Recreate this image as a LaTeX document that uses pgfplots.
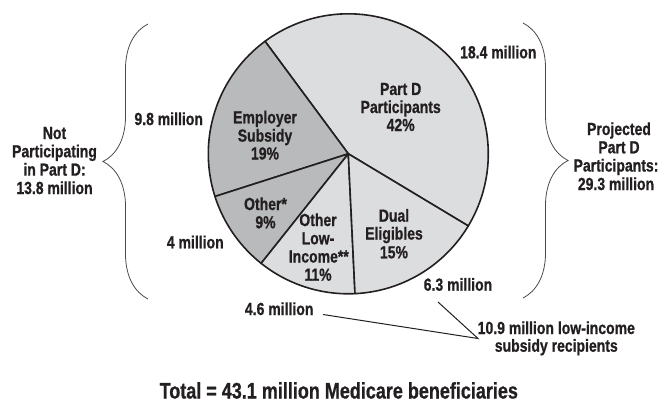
\documentclass[border=0pt]{standalone}
\usepackage{pgfplots}
\pgfplotsset{compat=1.18}
\usepackage{fontspec}
\setmainfont{Liberation Sans}[FakeStretch=0.8, BoldFeatures={FakeBold=0.8}]
\usetikzlibrary{decorations.pathreplacing}
\definecolor{txt}{HTML}{231F20}
\definecolor{light}{HTML}{DCDDDF}
\definecolor{dark}{HTML}{B9BABC}
\definecolor{brace}{HTML}{4A4A4A}
\newcommand\lblfont{\fontsize{17.5}{18}\selectfont\bfseries}
\newcommand\ttlfont{\fontsize{22.5}{24}\selectfont\bfseries}
\newcommand\lbl[3]{\node[anchor=base, text=txt, font=\lblfont, inner sep=0pt] at (axis cs:#1,#2) {#3};}
\begin{document}
\begin{tikzpicture}
\path[use as bounding box] (0,0) rectangle (664pt,404pt);
% shares (percent) as labelled: Part D, Employer, Other, Other low-income, Dual
\def\cx{348.3}\def\cy{153.8}\def\R{140}
\pgfmathsetmacro{\tot}{42+19+9+11+15}
\pgfmathsetmacro{\aA}{-31}
\pgfmathsetmacro{\aB}{\aA+42/\tot*360}
\pgfmathsetmacro{\aC}{\aB+19/\tot*360}
\pgfmathsetmacro{\aD}{\aC+9/\tot*360}
\pgfmathsetmacro{\aE}{\aD+11/\tot*360}
\pgfmathsetmacro{\aF}{\aE+15/\tot*360}
\begin{axis}[at={(0,0)}, anchor=south west, width=664pt, height=404pt, scale only axis,
  xmin=0, xmax=664, ymin=0, ymax=404, y dir=reverse, hide axis, clip=false]
\addplot[fill=light, draw=txt, line width=1.6pt, line join=round, domain=\aA:\aB, samples=90, variable=\t]
  ({\cx+\R*cos(\t)},{\cy-\R*sin(\t)}) -- (axis cs:\cx,\cy) -- cycle;
\addplot[fill=dark, draw=txt, line width=1.6pt, line join=round, domain=\aB:\aC, samples=60, variable=\t]
  ({\cx+\R*cos(\t)},{\cy-\R*sin(\t)}) -- (axis cs:\cx,\cy) -- cycle;
\addplot[fill=dark, draw=txt, line width=1.6pt, line join=round, domain=\aC:\aD, samples=40, variable=\t]
  ({\cx+\R*cos(\t)},{\cy-\R*sin(\t)}) -- (axis cs:\cx,\cy) -- cycle;
\addplot[fill=light, draw=txt, line width=1.6pt, line join=round, domain=\aD:\aE, samples=40, variable=\t]
  ({\cx+\R*cos(\t)},{\cy-\R*sin(\t)}) -- (axis cs:\cx,\cy) -- cycle;
\addplot[fill=light, draw=txt, line width=1.6pt, line join=round, domain=\aE:\aF, samples=50, variable=\t]
  ({\cx+\R*cos(\t)},{\cy-\R*sin(\t)}) -- (axis cs:\cx,\cy) -- cycle;
% braces
\draw[brace, line width=0.8pt, decorate, decoration={brace, amplitude=45pt}] (axis cs:148,299) -- (axis cs:148,24);
\draw[brace, line width=0.8pt, decorate, decoration={brace, amplitude=45pt}] (axis cs:523,23) -- (axis cs:523,298);
% leader lines
\addplot[txt, line width=1pt, no marks] coordinates {(323,314.5) (478,338.5) (438,302)};
% labels
\lbl{54.5}{139}{Not}
\lbl{54.5}{157.3}{Participating}
\lbl{54.5}{175.6}{in Part D:}
\lbl{54.5}{194}{13.8 million}
\lbl{168.7}{125}{9.8 million}
\lbl{265}{123.3}{Employer}
\lbl{265}{141.6}{Subsidy}
\lbl{265}{159.5}{19\%}
\lbl{400.7}{95}{Part D}
\lbl{400.7}{113}{Participants}
\lbl{400.7}{131}{42\%}
\lbl{498.3}{58.3}{18.4 million}
\lbl{619}{135}{Projected}
\lbl{619}{153.3}{Part D}
\lbl{616}{171.5}{Participants:}
\lbl{616}{190}{29.3 million}
\lbl{265.5}{210}{Other*}
\lbl{265.5}{228.3}{9\%}
\lbl{318}{226}{Other}
\lbl{318}{244.3}{Low-}
\lbl{318.8}{262.5}{Income**}
\lbl{318}{280.7}{11\%}
\lbl{394}{221.7}{Dual}
\lbl{394}{239.5}{Eligibles}
\lbl{394}{258.3}{15\%}
\lbl{195.3}{248.3}{4 million}
\lbl{458}{290.7}{6.3 million}
\lbl{279.2}{315}{4.6 million}
\lbl{556.3}{334}{10.9 million low-income}
\lbl{556.3}{351.7}{subsidy recipients}
\node[anchor=base, text=txt, font=\ttlfont, inner sep=0pt] at (axis cs:338.8,398.5) {Total = 43.1 million Medicare beneficiaries};
\end{axis}
\end{tikzpicture}
\end{document}
